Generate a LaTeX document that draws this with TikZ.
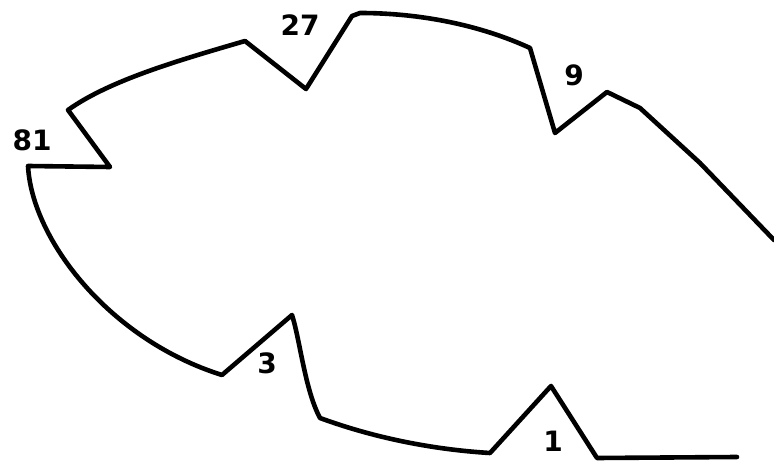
\documentclass[tikz,border=0pt]{standalone}
\usepackage{fontspec}
\newfontfamily\lblfont{DejaVu Sans}
\usepackage{tikz}
\usetikzlibrary{positioning}

\begin{document}
\begin{tikzpicture}[
  x=1pt, y=-1pt,
  outline/.style={line width=4.6pt, line join=round, line cap=round, draw=black},
  num/.style={font=\lblfont\bfseries\fontsize{28}{30}\selectfont, inner sep=0pt},
]
\useasboundingbox (0,0) rectangle (774,462);

% Outline of the shape
\draw[outline] (774,240) -- (700,163) -- (640,108) -- (607,92) -- (555,133)
  -- (530,48) .. controls (480,25) and (420,13) .. (360,13) -- (352,16)
  -- (306,89) -- (245,41) .. controls (180,60) and (110,80) .. (68,110)
  -- (110,167) -- (28,166) .. controls (32,240) and (110,340) .. (222,375)
  -- (292,315) .. controls (300,340) and (305,390) .. (320,418)
  .. controls (380,440) and (440,450) .. (490,453)
  -- (551,386) -- (597,458) -- (737,457);

% ── Labels ──
\node[num] (n81) at (32,140)  {81};
\node[num] (n27) at (300,25)  {27};
\node[num] (n9)  at (574,75)  {9};
\node[num] (n3)  at (267,363) {3};
\node[num] (n1)  at (553,441) {1};

\end{tikzpicture}
\end{document}
